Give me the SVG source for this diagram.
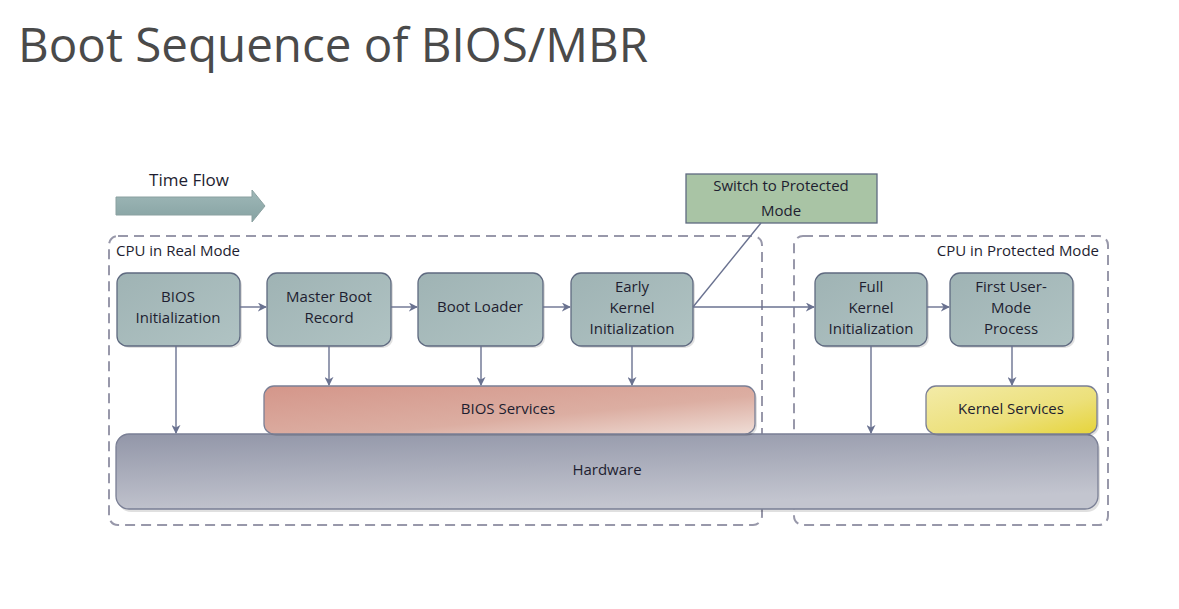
<svg xmlns="http://www.w3.org/2000/svg" width="1179" height="609" viewBox="0 0 1179 609">
<style>
.t{font-family:"Open Sans","Noto Sans","Liberation Sans",sans-serif;fill:#1e1e30;font-size:15px;text-anchor:middle}
.node{fill:url(#gNode);stroke:#5f6a80;stroke-width:1.3}
.dash{fill:none;stroke:#9898aa;stroke-width:2;stroke-dasharray:10 6}
.con{stroke:#6a7290;stroke-width:1.4;fill:none}
.sh{fill:#000;opacity:0.12}
</style>
<defs>
<linearGradient id="gNode" x1="0" y1="0" x2="1" y2="1"><stop offset="0" stop-color="#9fb3b4"/><stop offset="1" stop-color="#b0c3c3"/></linearGradient>
<linearGradient id="gBios" x1="0" y1="0" x2="1" y2="1"><stop offset="0" stop-color="#d4968a"/><stop offset="0.6" stop-color="#dcaea2"/><stop offset="1" stop-color="#efddd6"/></linearGradient>
<linearGradient id="gKern" x1="0" y1="0" x2="1" y2="1"><stop offset="0" stop-color="#f3eba8"/><stop offset="0.6" stop-color="#ece07a"/><stop offset="1" stop-color="#e6d43a"/></linearGradient>
<linearGradient id="gHw" x1="0" y1="0" x2="0.3" y2="1"><stop offset="0" stop-color="#9296a8"/><stop offset="1" stop-color="#c3c5cf"/></linearGradient>
<linearGradient id="gArr" x1="0" y1="0" x2="0" y2="1"><stop offset="0" stop-color="#9fb8b8"/><stop offset="1" stop-color="#86a2a2"/></linearGradient>
<marker id="ah" viewBox="0 0 10 10" refX="9" refY="5" markerWidth="9" markerHeight="9" markerUnits="userSpaceOnUse" orient="auto"><path d="M0,0 L10,5 L0,10 L3,5 Z" fill="#6a7290"/></marker>
</defs>
<rect width="1179" height="609" fill="#ffffff"/>
<text x="18" y="62" font-family="'Open Sans','Noto Sans',sans-serif" font-size="48" fill="#4a4a4a" textLength="630" lengthAdjust="spacingAndGlyphs">Boot Sequence of BIOS/MBR</text>

<g id="timeflow">
<text x="189" y="186" class="t" style="font-size:17px">Time Flow</text>
<path d="M116,197 L252,197 L252,190 L265,206 L252,222 L252,215 L116,215 Z" fill="url(#gArr)" stroke="#8aa0a0" stroke-width="1"/>
</g>

<g id="realmode">
<rect x="109" y="236" width="653" height="289" rx="9" class="dash"/>
<text x="116" y="256" class="t" style="text-anchor:start">CPU in Real Mode</text>
</g>
<g id="protmode">
<rect x="794" y="236" width="314" height="289" rx="9" class="dash"/>
<text x="1099" y="256" class="t" style="text-anchor:end">CPU in Protected Mode</text>
</g>

<g id="hardware">
<rect x="118" y="437" width="982" height="75" rx="13" class="sh"/>
<rect x="116" y="434" width="982" height="75" rx="13" fill="url(#gHw)" stroke="#7a7f95" stroke-width="1.3"/>
<text x="607" y="475" class="t">Hardware</text>
</g>
<g id="bios-services">
<rect x="266" y="388" width="491" height="48" rx="10" class="sh"/>
<rect x="264" y="386" width="491" height="48" rx="10" fill="url(#gBios)" stroke="#7a7f95" stroke-width="1.3"/>
<text x="508" y="414" class="t">BIOS Services</text>
</g>
<g id="kernel-services">
<rect x="928" y="388" width="171" height="48" rx="10" class="sh"/>
<rect x="926" y="386" width="171" height="48" rx="10" fill="url(#gKern)" stroke="#7a7f95" stroke-width="1.3"/>
<text x="1011" y="414" class="t">Kernel Services</text>
</g>

<g id="bios-init">
<rect x="119" y="275" width="123" height="73" rx="10" class="sh"/>
<rect x="117" y="273" width="123" height="73" rx="10" class="node"/>
<text x="178" y="302" class="t">BIOS</text><text x="178" y="323" class="t">Initialization</text>
</g>
<g id="mbr">
<rect x="269" y="275" width="124" height="73" rx="10" class="sh"/>
<rect x="267" y="273" width="124" height="73" rx="10" class="node"/>
<text x="329" y="302" class="t">Master Boot</text><text x="329" y="323" class="t">Record</text>
</g>
<g id="boot-loader">
<rect x="420" y="275" width="125" height="73" rx="10" class="sh"/>
<rect x="418" y="273" width="125" height="73" rx="10" class="node"/>
<text x="480" y="312" class="t">Boot Loader</text>
</g>
<g id="early-kernel">
<rect x="573" y="275" width="122" height="73" rx="10" class="sh"/>
<rect x="571" y="273" width="122" height="73" rx="10" class="node"/>
<text x="632" y="292" class="t">Early</text><text x="632" y="313" class="t">Kernel</text><text x="632" y="334" class="t">Initialization</text>
</g>
<g id="full-kernel">
<rect x="817" y="275" width="112" height="73" rx="10" class="sh"/>
<rect x="815" y="273" width="112" height="73" rx="10" class="node"/>
<text x="871" y="292" class="t">Full</text><text x="871" y="313" class="t">Kernel</text><text x="871" y="334" class="t">Initialization</text>
</g>
<g id="first-user">
<rect x="952" y="275" width="123" height="73" rx="10" class="sh"/>
<rect x="950" y="273" width="123" height="73" rx="10" class="node"/>
<text x="1011" y="292" class="t">First User-</text><text x="1011" y="313" class="t">Mode</text><text x="1011" y="334" class="t">Process</text>
</g>
<g id="switch">
<rect x="686" y="174" width="191" height="49" fill="#a9c4a5" stroke="#5f6a80" stroke-width="1.3"/>
<text x="781" y="191" class="t">Switch to Protected</text><text x="781" y="216" class="t">Mode</text>
</g>

<g id="connectors">
<line x1="240" y1="307" x2="266" y2="307" class="con" marker-end="url(#ah)"/>
<line x1="391" y1="307" x2="417" y2="307" class="con" marker-end="url(#ah)"/>
<line x1="543" y1="307" x2="570" y2="307" class="con" marker-end="url(#ah)"/>
<line x1="693" y1="307" x2="814" y2="307" class="con" marker-end="url(#ah)"/>
<line x1="927" y1="307" x2="949" y2="307" class="con" marker-end="url(#ah)"/>
<line x1="693" y1="307" x2="761" y2="223" class="con"/>
<line x1="176" y1="346" x2="176" y2="433" class="con" marker-end="url(#ah)"/>
<line x1="329" y1="346" x2="329" y2="385" class="con" marker-end="url(#ah)"/>
<line x1="481" y1="346" x2="481" y2="385" class="con" marker-end="url(#ah)"/>
<line x1="632" y1="346" x2="632" y2="385" class="con" marker-end="url(#ah)"/>
<line x1="871" y1="346" x2="871" y2="433" class="con" marker-end="url(#ah)"/>
<line x1="1012" y1="346" x2="1012" y2="385" class="con" marker-end="url(#ah)"/>
</g>
</svg>
